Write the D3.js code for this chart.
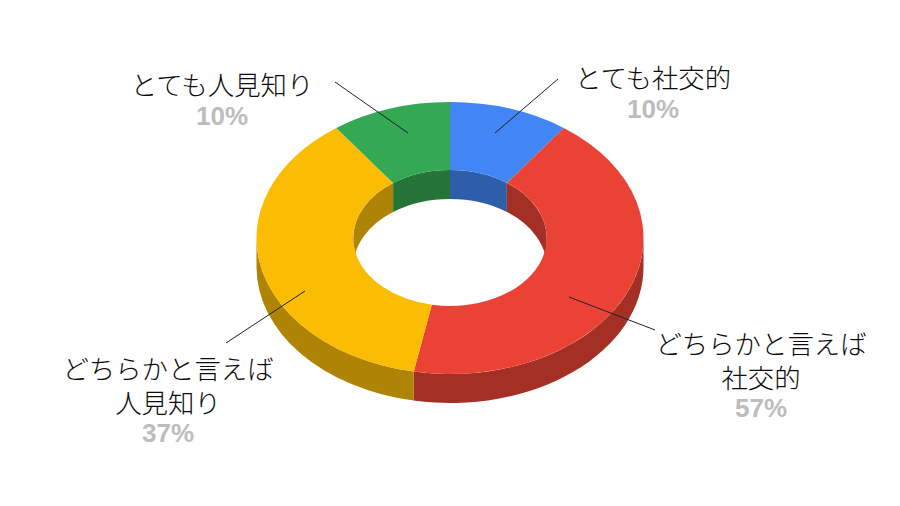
<!DOCTYPE html>
<html lang="ja">
<head>
<meta charset="utf-8">
<script src="https://cdn.jsdelivr.net/npm/d3@7"></script>
<style>
html,body{margin:0;padding:0;background:#fff;}
svg{display:block;}
</style>
</head>
<body>
<svg id="chart" width="900" height="506"></svg>
<script>
// Data, clockwise from 12 o'clock.
const categories = ["とても社交的", "どちらかと言えば社交的", "どちらかと言えば人見知り", "とても人見知り"];
const sliceValues = [10, 43, 37, 10];
const percentLabels = ["10%", "57%", "37%", "10%"];
const labelLines = [["とても社交的"], ["どちらかと言えば", "社交的"], ["どちらかと言えば", "人見知り"], ["とても人見知り"]];
const colors = ["#4285f4", "#ea4335", "#fbbc04", "#34a853"];
const wallColors = ["#2e5daa", "#a32f25", "#af8303", "#247537"];

// Layout (kept apart from the data)
const W = 900, H = 506, cx = 450, cy = 238, rx = 193.5, ry = 136, depth = 29, holeRatio = 0.5;
const labelAnchors = [[653, 88], [761, 354], [168, 379], [222, 95]];
const leaders = [[[558, 79], [495, 133]], [[655, 330], [569, 297]], [[226, 343], [305, 291]], [[335, 82], [408, 133]]];

const svg = d3.select("#chart");
const pie = d3.pie().sort(null).startAngle(0).endAngle(2 * Math.PI);
const arcs = pie(sliceValues);
const rScale = d3.scaleLinear().domain([0, 1]).range([0, rx]);
const pt = (a, r, dy = 0) => [cx + rScale(r) * Math.sin(a), cy - rScale(r) * (ry / rx) * Math.cos(a) + dy];

function wall(a0, a1, r) {
  const [x0, y0] = pt(a0, r), [x1, y1] = pt(a1, r);
  const [x2, y2] = pt(a1, r, depth), [x3, y3] = pt(a0, r, depth);
  const R = rScale(r), Ry = R * ry / rx;
  return `M${x0},${y0}A${R},${Ry} 0 0 1 ${x1},${y1}L${x2},${y2}A${R},${Ry} 0 0 0 ${x3},${y3}Z`;
}

const walls = svg.append("g");
arcs.forEach((d, i) => {
  // Outer wall: front half (90deg .. 270deg)
  const lo = Math.max(d.startAngle, Math.PI / 2), hi = Math.min(d.endAngle, 3 * Math.PI / 2);
  if (hi > lo) walls.append("path").attr("d", wall(lo, hi, 1)).attr("fill", wallColors[i]);
  // Inner wall: back half (270deg .. 360deg and 0 .. 90deg)
  [[0, Math.PI / 2], [3 * Math.PI / 2, 2 * Math.PI]].forEach(([s, e]) => {
    const a = Math.max(d.startAngle, s), b = Math.min(d.endAngle, e);
    if (b > a) walls.append("path").attr("d", wall(a, b, holeRatio)).attr("fill", wallColors[i]);
  });
});

const arcGen = d3.arc().innerRadius(rScale(holeRatio)).outerRadius(rScale(1));
svg.append("g")
  .attr("transform", `translate(${cx},${cy}) scale(1,${ry / rx})`)
  .selectAll("path").data(arcs).join("path")
  .attr("d", arcGen)
  .attr("fill", (d, i) => colors[i]);

svg.append("g").selectAll("line").data(leaders).join("line")
  .attr("x1", d => d[0][0]).attr("y1", d => d[0][1])
  .attr("x2", d => d[1][0]).attr("y2", d => d[1][1])
  .attr("stroke", "#222").attr("stroke-width", 1);

const lineGap = 33.5, pctGap = 29.5;
labelLines.forEach((lines, i) => {
  const [x, y] = labelAnchors[i];
  const g = svg.append("g").attr("text-anchor", "middle");
  lines.forEach((t, j) => {
    g.append("text").attr("x", x).attr("y", y + j * lineGap)
      .attr("font-family", "'Noto Sans CJK JP'").attr("font-weight", 300)
      .attr("font-size", 26.4).attr("fill", "#0c0c0c")
      .text(t);
  });
  g.append("text").attr("x", x).attr("y", y + (lines.length - 1) * lineGap + pctGap)
    .attr("font-family", "'Liberation Sans',Arial,sans-serif").attr("font-weight", "bold")
    .attr("font-size", 26).attr("fill", "#bdbdbd")
    .text(percentLabels[i]);
});
</script>
</body>
</html>
